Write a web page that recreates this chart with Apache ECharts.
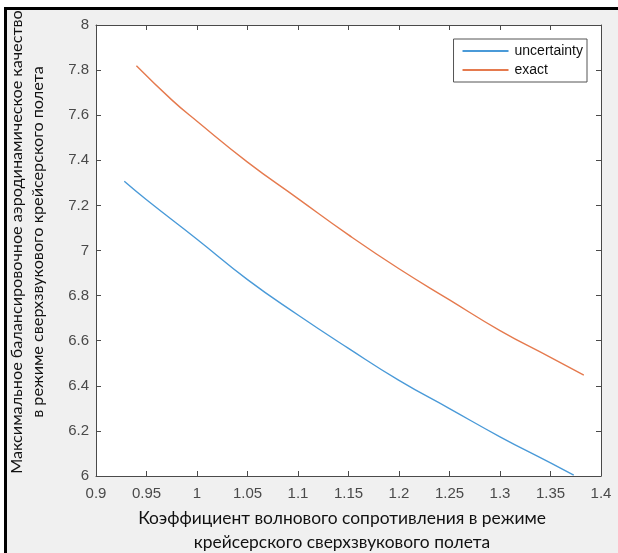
<!DOCTYPE html>
<html>
<head>
<meta charset="utf-8">
<script src="https://cdn.jsdelivr.net/npm/echarts@6/dist/echarts.min.js"></script>
<style>
html,body{margin:0;padding:0;background:#fff;}
#chart{width:618px;height:553px;}
</style>
</head>
<body>
<div id="chart"></div>
<script>
// Data
const uncertaintyX = [0.928, 0.95, 1.0, 1.05, 1.1, 1.15, 1.2, 1.25, 1.3, 1.35, 1.373];
const uncertaintyY = [7.307, 7.225, 7.05, 6.871, 6.714, 6.566, 6.424, 6.299, 6.174, 6.058, 6.004];
const exactX = [0.94, 0.975, 1.0, 1.05, 1.1, 1.15, 1.2, 1.25, 1.3, 1.35, 1.383];
const exactY = [7.819, 7.668, 7.573, 7.392, 7.230, 7.069, 6.919, 6.781, 6.645, 6.526, 6.447];
const seriesNames = ['uncertainty', 'exact'];
const xTitle = ['Коэффициент волнового сопротивления в режиме', 'крейсерского сверхзвукового полета'];
const yTitle = ['Максимальное балансировочное аэродинамическое качество', 'в режиме сверхзвукового крейсерского полета'];

const chart = echarts.init(document.getElementById('chart'), null, {renderer: 'canvas'});
const axisColor = '#4a4a4a';
const labelColor = '#4a4a4a';
const tickFont = 'Liberation Sans, Arial, sans-serif';
const titleFont = 'Lato, sans-serif';

function pairs(xs, ys) { return xs.map((x, i) => [x, ys[i]]); }

const gridLeft = 96, gridRight = 17, gridTop = 25, gridBottom = 77;

const option = {
  backgroundColor: '#f0f0f0',
  animation: false,
  grid: {left: gridLeft, right: gridRight, top: gridTop, bottom: gridBottom, show: true, backgroundColor: '#fff', borderWidth: 0},
  legend: {
    data: seriesNames,
    orient: 'vertical',
    right: 31, top: 39,
    itemWidth: 46, itemHeight: 2, itemGap: 5,
    padding: [5, 4, 5, 9],
    backgroundColor: '#fff',
    borderColor: '#555', borderWidth: 1,
    icon: 'rect',
    textStyle: {fontFamily: tickFont, fontSize: 14, lineHeight: 14, color: '#111', padding: [0,0,0,1]}
  },
  xAxis: [{
    type: 'value', min: 0.9, max: 1.4, interval: 0.05,
    axisLine: {show: true, onZero: false, lineStyle: {color: axisColor, width: 1}},
    axisTick: {show: true, inside: true, length: 5, lineStyle: {color: axisColor}},
    axisLabel: {color: labelColor, fontFamily: tickFont, fontSize: 15, margin: 10},
    splitLine: {show: false}
  }, {
    type: 'value', min: 0.9, max: 1.4, interval: 0.05, position: 'top',
    axisLine: {show: true, onZero: false, lineStyle: {color: axisColor, width: 1}},
    axisTick: {show: true, inside: true, length: 5, lineStyle: {color: axisColor}},
    axisLabel: {show: false}, splitLine: {show: false}
  }],
  yAxis: [{
    type: 'value', min: 6, max: 8, interval: 0.2,
    axisLine: {show: true, onZero: false, lineStyle: {color: axisColor, width: 1}},
    axisTick: {show: true, inside: true, length: 5, lineStyle: {color: axisColor}},
    axisLabel: {color: labelColor, fontFamily: tickFont, fontSize: 15, margin: 7},
    splitLine: {show: false}
  }, {
    type: 'value', min: 6, max: 8, interval: 0.2, position: 'right',
    axisLine: {show: true, onZero: false, lineStyle: {color: axisColor, width: 1}},
    axisTick: {show: true, inside: true, length: 5, lineStyle: {color: axisColor}},
    axisLabel: {show: false}, splitLine: {show: false}
  }],
  series: [{
    name: seriesNames[0], type: 'line', data: pairs(uncertaintyX, uncertaintyY),
    smooth: true, showSymbol: false, symbol: 'none',
    lineStyle: {color: '#4a9ad8', width: 1.4}, itemStyle: {color: '#4a9ad8'}
  }, {
    name: seriesNames[1], type: 'line', data: pairs(exactX, exactY),
    smooth: true, showSymbol: false, symbol: 'none',
    lineStyle: {color: '#e57a4e', width: 1.4}, itemStyle: {color: '#e57a4e'}
  }],
  graphic: [
    {type: 'rect', left: 0, top: 0, shape: {width: 618, height: 7}, style: {fill: '#fff'}, silent: true},
    {type: 'rect', left: 0, top: 0, shape: {width: 4, height: 553}, style: {fill: '#fff'}, silent: true},
    {type: 'rect', left: 4, top: 7, shape: {width: 614, height: 3}, style: {fill: '#000'}, silent: true},
    {type: 'rect', left: 4, top: 7, shape: {width: 3, height: 546}, style: {fill: '#000'}, silent: true},
    {type: 'text', x: 342, y: 518, style: {text: xTitle[0], font: '17.4px ' + titleFont, fill: '#111', align: 'center', verticalAlign: 'middle'}},
    {type: 'text', x: 342, y: 542, style: {text: xTitle[1], font: '17.4px ' + titleFont, fill: '#111', align: 'center', verticalAlign: 'middle'}},
    {type: 'text', x: 17, y: 242, rotation: Math.PI / 2, style: {text: yTitle[0], font: '16.2px ' + titleFont, fill: '#111', align: 'center', verticalAlign: 'middle'}},
    {type: 'text', x: 38, y: 242, rotation: Math.PI / 2, style: {text: yTitle[1], font: '16.2px ' + titleFont, fill: '#111', align: 'center', verticalAlign: 'middle'}}
  ]
};
chart.setOption(option);
</script>
</body>
</html>
